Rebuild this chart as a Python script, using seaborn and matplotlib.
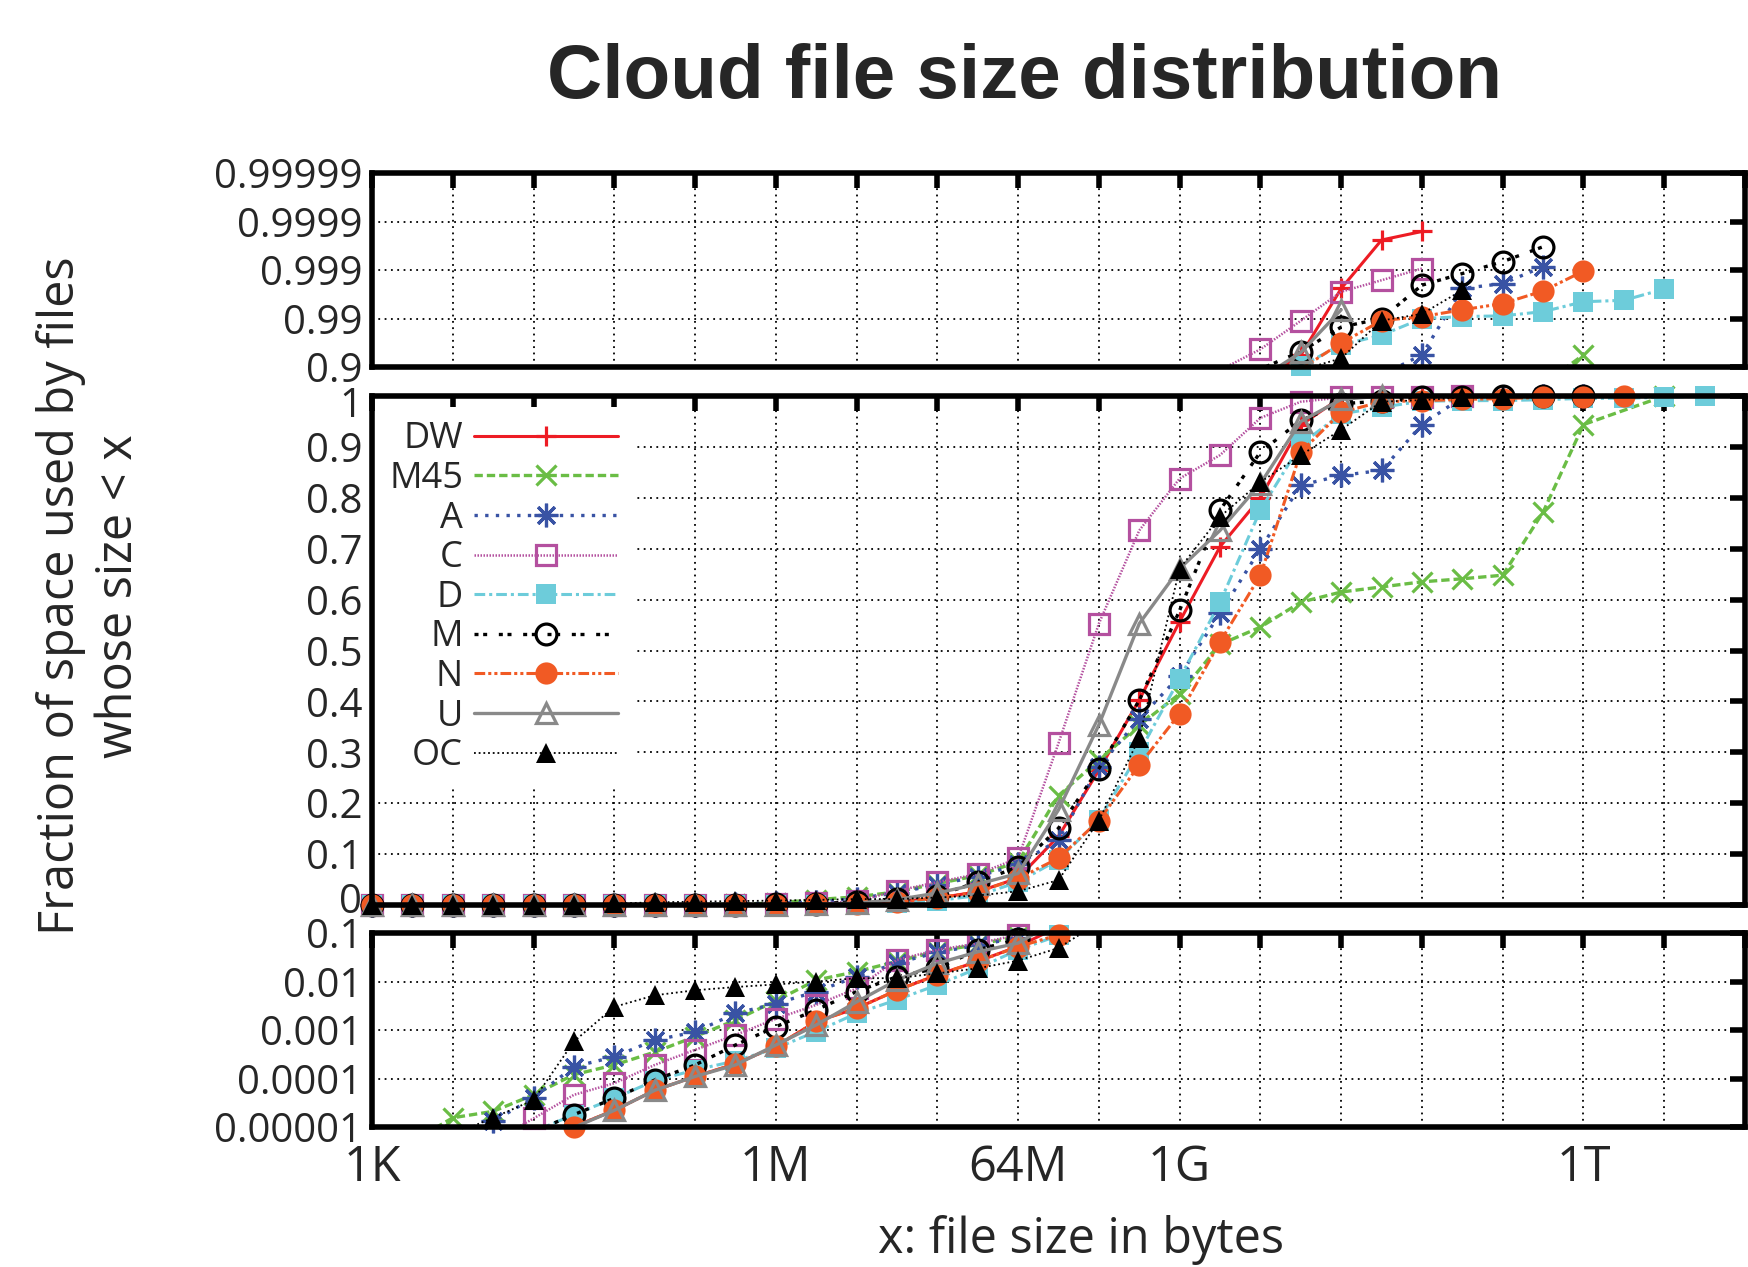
import numpy as np
import matplotlib
matplotlib.use("Agg")
import matplotlib.pyplot as plt
import matplotlib.transforms as mtransforms
from matplotlib.lines import Line2D
from matplotlib.ticker import FixedLocator, FixedFormatter, NullLocator
import seaborn as sns

nan = np.nan

# x positions: file size = 2**exps bytes (1K .. 16T)
exps = np.arange(10, 45)

# fraction of space used by files whose size < x, one value per power of two
dw = [2e-7, 5e-7, 1e-6, 2e-6, 5e-6, 1.02e-5, 2.2e-5, 5.7e-5, 1.1e-4, 2.0e-4,
      4.6e-4, 1.5e-3, 2.8e-3, 6.6e-3, 1.37e-2, 2.6e-2, 0.053, 0.135, 0.265, 0.403,
      0.557, 0.704, 0.80, 0.943, 0.9976, 0.99976, 0.99984, 1.0,
      nan, nan, nan, nan, nan, nan, nan]
m45 = [1.5e-6, 5e-6, 1.55e-5, 2.1e-5, 4.6e-5, 1.2e-4, 1.9e-4, 3.5e-4, 7.3e-4, 1.6e-3,
       4.0e-3, 1.07e-2, 1.6e-2, 2.6e-2, 4.2e-2, 5.8e-2, 0.085, 0.215, 0.285, 0.353,
       0.415, 0.512, 0.546, 0.595, 0.615, 0.625, 0.635, 0.641, 0.648, 0.772,
       0.944, nan, 1.0, nan, nan]
a = [1e-6, 2e-6, 5e-6, 1.3e-5, 4e-5, 1.75e-4, 2.8e-4, 6.2e-4, 9.1e-4, 2.2e-3,
     3.5e-3, 6.2e-3, 1.26e-2, 2.4e-2, 4.0e-2, 5.6e-2, 0.08, 0.128, 0.272, 0.366,
     0.45, 0.573, 0.70, 0.825, 0.844, 0.854, 0.944, 0.9976, 0.9981, 0.99915,
     1.0, nan, nan, nan, nan]
c = [5e-7, 1e-6, 2e-6, 5e-6, 1.5e-5, 4.6e-5, 8e-5, 1.9e-4, 3.9e-4, 7.9e-4,
     1.7e-3, 3.3e-3, 7.2e-3, 2.8e-2, 4.5e-2, 6.1e-2, 0.092, 0.318, 0.553, 0.736,
     0.838, 0.884, 0.957, 0.9889, 0.9972, 0.99838, 0.99907, 1.0,
     nan, nan, nan, nan, nan, nan, nan]
d = [4e-7, 1e-6, 2e-6, 4e-6, 8e-6, 1.8e-5, 3.9e-5, 9e-5, 1.5e-4, 2.3e-4,
     4.2e-4, 9.3e-4, 2.2e-3, 4.2e-3, 8.5e-3, 1.87e-2, 0.045, 0.089, 0.167, 0.30,
     0.445, 0.595, 0.776, 0.905, 0.965, 0.978, 0.99, 0.9909, 0.9912, 0.9928,
     0.9955, 0.9958, 0.99754, 1.0, nan]
m = [5e-7, 1e-6, 2e-6, 4e-6, 8e-6, 1.8e-5, 3.9e-5, 9.3e-5, 1.9e-4, 4.9e-4,
     1.17e-3, 2.6e-3, 6.2e-3, 1.26e-2, 1.87e-2, 4.5e-2, 0.075, 0.151, 0.268, 0.402,
     0.579, 0.776, 0.89, 0.952, 0.985, 0.99, 0.99795, 0.99882, 0.99933, 0.99967,
     1.0, nan, nan, nan, nan]
n = [5e-7, 1e-6, 2e-6, 4e-6, 7e-6, 1.02e-5, 2.2e-5, 5.7e-5, 1.1e-4, 2.0e-4,
     4.6e-4, 1.5e-3, 2.8e-3, 6.6e-3, 1.37e-2, 2.6e-2, 0.052, 0.092, 0.166, 0.275,
     0.376, 0.517, 0.648, 0.89, 0.968, 0.989, 0.9909, 0.9934, 0.9951, 0.9973,
     0.99895, 1.0, nan, nan, nan]
u = [3e-7, 7e-7, 1.5e-6, 3e-6, 6e-6, 9.8e-6, 2.2e-5, 5.7e-5, 1.1e-4, 1.9e-4,
     4.9e-4, 1.27e-3, 3.8e-3, 1.07e-2, 2.37e-2, 4.1e-2, 0.062, 0.187, 0.354, 0.553,
     0.661, 0.736, 0.828, 0.95, 0.9934, 1.0,
     nan, nan, nan, nan, nan, nan, nan, nan, nan]
oc = [1e-6, 3e-6, 7e-6, 1.55e-5, 3.6e-5, 5.8e-4, 3.0e-3, 5.2e-3, 6.6e-3, 7.7e-3,
      8.7e-3, 1.0e-2, 1.17e-2, 1.17e-2, 1.47e-2, 1.87e-2, 0.027, 0.049, 0.166, 0.328,
      0.661, 0.763, 0.831, 0.884, 0.934, 0.989, 0.992, 0.9974, 1.0,
      nan, nan, nan, nan, nan, nan]

series_names = ["DW", "M45", "A", "C", "D", "M", "N", "U", "OC"]
series_values = [dw, m45, a, c, d, m, n, u, oc]

# gnuplot-like styles: color, linestyle, linewidth, marker, size, filled
styles = {
    "DW": ("#ED1C24", "-", 2.2, "+", 14, False),
    "M45": ("#6ABD45", (0, (2.5, 1.2)), 2.4, "x", 15, False),
    "A": ("#3953A4", (0, (1, 2.2)), 2.4, (8, 2, 0), 17, False),
    "C": ("#B4509F", (0, (0.6, 0.6)), 1.8, "s", 14, False),
    "D": ("#6DCCDA", (0, (3.5, 1.3, 1, 1.3)), 2.2, "s", 15, True),
    "M": ("black", (0, (1.2, 1.4, 1.2, 3.5)), 2.4, "o", 15, False),
    "N": ("#F15A24", (0, (3.5, 1, 1, 1, 1, 1)), 2.2, "o", 16, True),
    "U": ("#898989", "-", 2.4, "^", 15, False),
    "OC": ("black", (0, (1, 1.6)), 1.3, "^", 14, True),
}

sns.set_style("white")
plt.rcParams["font.family"] = ["Open Sans", "DejaVu Sans"]

fig = plt.figure(figsize=(17.48, 12.67), dpi=100)
L, W = 0.2128, 0.7855
ax_top = fig.add_axes([L, 0.7103, W, 0.1531])
ax_mid = fig.add_axes([L, 0.2857, W, 0.4017])
ax_bot = fig.add_axes([L, 0.1105, W, 0.1531])

xs = 2.0 ** exps


def panel_values(kind, vals):
    v = np.array(vals, dtype=float)
    if kind == "top":
        t = 1.0 - v
        t[t <= 0] = nan
        return t
    return v


def visible(kind, t):
    with np.errstate(invalid="ignore"):
        if kind == "top":
            return (t <= 0.105) & (t >= 0.95e-5)
        if kind == "mid":
            return (t >= -0.01) & (t <= 1.01)
        return (t >= 0.99e-5) & (t <= 0.105)


def marker_kws(name):
    col, ls, lw, mk, ms, filled = styles[name]
    kws = dict(marker=mk, markersize=ms)
    if filled:
        kws.update(markerfacecolor=col, markeredgecolor=col, markeredgewidth=0)
    else:
        kws.update(markerfacecolor="none", markeredgecolor=col, markeredgewidth=2.3)
    return kws


for kind, ax in [("top", ax_top), ("mid", ax_mid), ("bot", ax_bot)]:
    ax.set_xscale("log", base=2)
    if kind == "top":
        ax.set_yscale("log")
        ax.set_ylim(0.1, 1e-5)
        ax.yaxis.set_major_locator(FixedLocator([0.1, 0.01, 1e-3, 1e-4, 1e-5]))
        ax.yaxis.set_major_formatter(FixedFormatter(["0.9", "0.99", "0.999", "0.9999", "0.99999"]))
    elif kind == "bot":
        ax.set_yscale("log")
        ax.set_ylim(1e-5, 0.1)
        ax.yaxis.set_major_locator(FixedLocator([1e-5, 1e-4, 1e-3, 0.01, 0.1]))
        ax.yaxis.set_major_formatter(FixedFormatter(["0.00001", "0.0001", "0.001", "0.01", "0.1"]))
    else:
        ax.set_ylim(0, 1)
        yt = np.round(np.arange(0, 1.01, 0.1), 1)
        ax.yaxis.set_major_locator(FixedLocator(yt))
        ax.yaxis.set_major_formatter(FixedFormatter(["0" if v == 0 else ("1" if v == 1 else f"{v:.1f}") for v in yt]))
    ax.yaxis.set_minor_locator(NullLocator())

    # draw each series: clipped line, then unclipped points inside the range
    for name, vals in zip(series_names, series_values):
        col, ls, lw, mk, ms, filled = styles[name]
        t = panel_values(kind, vals)
        ok = ~np.isnan(t)
        sns.lineplot(x=xs[ok], y=t[ok], ax=ax, color=col, linestyle=ls, linewidth=lw,
                     estimator=None, sort=False, legend=False)
        vis = ok & visible(kind, t)
        ax.plot(xs[vis], t[vis], linestyle="none", clip_on=False, **marker_kws(name))

    ax.set_xlim(2.0 ** 10, 2.0 ** 44)
    ax.xaxis.set_major_locator(FixedLocator(2.0 ** np.arange(10, 45, 2)))
    ax.xaxis.set_minor_locator(NullLocator())
    ax.grid(True, color="black", linewidth=1.3, linestyle=(0, (1, 2.5)))
    ax.set_axisbelow(True)
    for sp in ax.spines.values():
        sp.set_linewidth(4)
        sp.set_color("black")
    ax.tick_params(axis="both", which="major", direction="in", length=11, width=4,
                   color="black", top=True, right=True, labelsize=29, pad=7)
    ax.set_xlabel("")
    ax.set_ylabel("")

# x tick labels only on the bottom panel
xlabels = {10: "1K", 20: "1M", 26: "64M", 30: "1G", 40: "1T"}
ax_bot.xaxis.set_major_formatter(FixedFormatter([xlabels.get(e, "") for e in range(10, 45, 2)]))
ax_bot.tick_params(axis="x", labelsize=35, pad=12)
ax_top.tick_params(axis="x", labelbottom=False)
ax_mid.tick_params(axis="x", labelbottom=False)

# nudge the "0" and "1" labels of the middle panel away from the neighbours
fig.canvas.draw()
mid_ticks = ax_mid.yaxis.get_major_ticks()
up = mtransforms.ScaledTranslation(0, 5 / 72, fig.dpi_scale_trans)
down = mtransforms.ScaledTranslation(0, -4 / 72, fig.dpi_scale_trans)
mid_ticks[0].label1.set_transform(mid_ticks[0].label1.get_transform() + up)
mid_ticks[-1].label1.set_transform(mid_ticks[-1].label1.get_transform() + down)

# legend: text right-aligned before the sample
handles = []
for name in series_names:
    col, ls, lw, mk, ms, filled = styles[name]
    handles.append(Line2D([0], [0], color=col, linestyle=ls, linewidth=lw, **marker_kws(name)))
leg = ax_mid.legend(handles, series_names, loc="upper left", bbox_to_anchor=(-0.006, 1.0),
                    markerfirst=False, frameon=True, fancybox=False, facecolor="white",
                    edgecolor="none", framealpha=1, fontsize=26, handlelength=4.0,
                    handletextpad=0.3, labelspacing=0.1, borderpad=0.4, borderaxespad=0.3,
                    numpoints=1)

fig.text(0.586, 0.938, "Cloud file size distribution", fontsize=55, fontweight="bold",
         family="Liberation Sans", ha="center", va="center")
fig.text(0.0515, 0.5296, "Fraction of space used by files\nwhose size < x", rotation=90,
         fontsize=35, ha="center", va="center", multialignment="center", linespacing=1.25)
fig.text(0.6184, 0.0213, "x: file size in bytes", fontsize=35, ha="center", va="center")

plt.savefig("out.png", dpi=100)
plt.close()
